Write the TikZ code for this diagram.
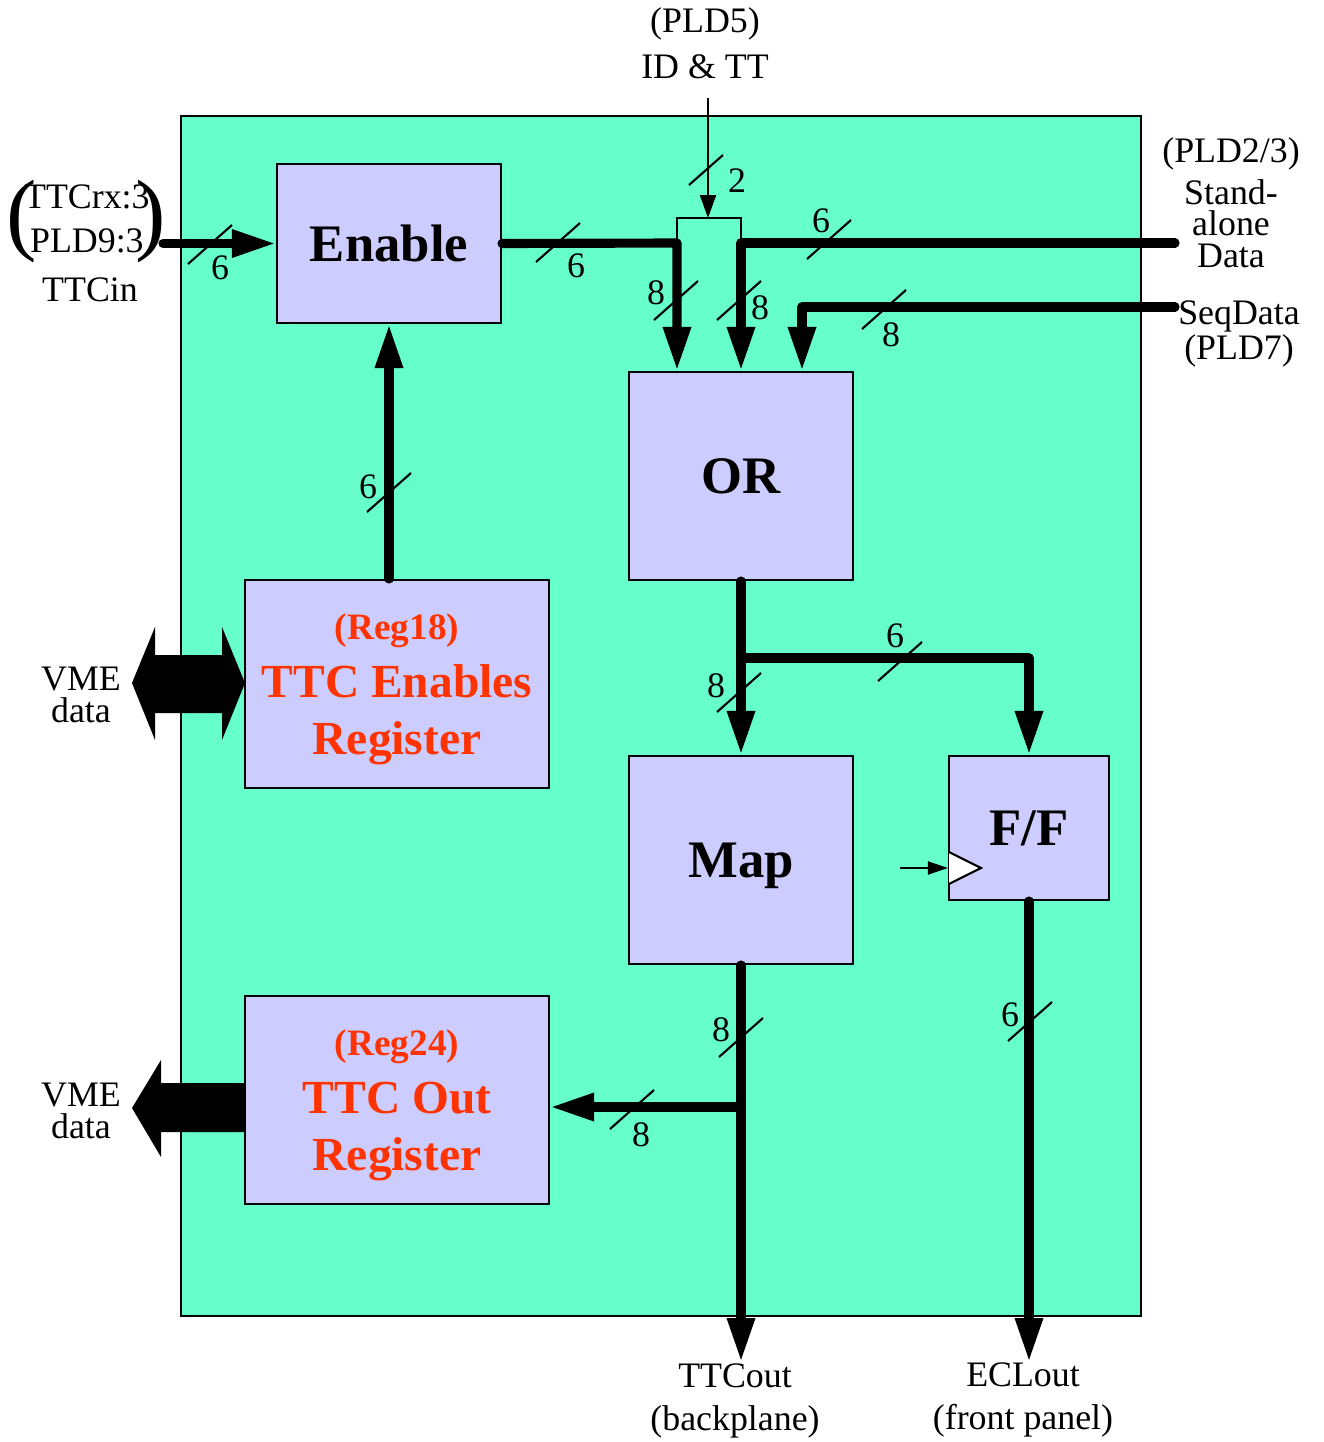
\documentclass[tikz,border=0pt]{standalone}
\usepackage{fontspec}
\setmainfont{Liberation Serif}
\usetikzlibrary{arrows.meta}

\definecolor{boardgreen}{RGB}{102,255,204}
\definecolor{blockblue}{RGB}{204,204,255}
\definecolor{regred}{RGB}{255,51,0}

\tikzset{
  txt/.style={font=\fontsize{10.2}{13}\selectfont, align=center, inner sep=0pt},
  wlabel/.style={font=\fontsize{10.2}{12}\selectfont, inner sep=0pt},
  blk/.style={draw, line width=0.6pt, fill=blockblue, inner sep=0pt, text depth=0pt,
    font=\bfseries\fontsize{15}{18}\selectfont},
  regblk/.style={draw, line width=0.6pt, fill=blockblue, inner sep=0pt, align=center,
    minimum width=30.4mm, minimum height=20.8mm, text=regred, text height=15.2mm,
    font=\bfseries\fontsize{13.5}{16.4}\selectfont},
  bus/.style={line width=2.6pt, line cap=round, line join=round},
  busarrow/.style={bus, -{Triangle[length=4.4mm,width=2.6mm]}},
  wire/.style={line width=0.6pt},
  slash/.pic={\draw[line width=0.6pt] (-22,20) -- (22,-19);},
  smallslash/.pic={\draw[line width=0.6pt] (-17,15) -- (17,-15);}
}

\begin{document}
\begin{tikzpicture}[x=0.1mm, y=-0.1mm]
  \useasboundingbox (0,0) rectangle (1324,1442);

  % board
  \node[draw, line width=0.6pt, fill=boardgreen, minimum width=96mm, minimum height=120mm,
    inner sep=0pt] (board) at (661,716) {};

  % blocks
  \node[blk, minimum width=22.4mm, minimum height=15.9mm] (enable) at (389,243.5) {Enable};
  \node[blk, minimum width=22.4mm, minimum height=20.8mm] (orgate) at (741,476) {OR};
  \node[blk, minimum width=22.4mm, minimum height=20.8mm] (map) at (741,860) {Map};
  \node[blk, minimum width=16mm, minimum height=14.4mm] (ff) at (1029,828) {F/F};
  \node[regblk] (enreg) at (397,684)
    {{\fontsize{10.6}{16.4}\selectfont (Reg18)}\\TTC Enables\\Register};
  \node[regblk] (outreg) at (397,1100)
    {{\fontsize{10.6}{16.4}\selectfont (Reg24)}\\TTC Out\\Register};

  % junctions and free ends
  \coordinate (ttcin) at (163,243.5);
  \coordinate (jl) at (677,243);
  \coordinate (jr) at (741,243);
  \coordinate (bl) at (677,218);
  \coordinate (br) at (741,218);
  \coordinate (pld5) at (708,98);
  \coordinate (sa) at (1175,243);
  \coordinate (sq) at (1175,307);
  \coordinate (sqc) at (802,307);
  \coordinate (jm) at (741,658);
  \coordinate (jo) at (741,1107);
  \coordinate (ttcout) at (741,1362);
  \coordinate (eclout) at (1029,1362);
  \coordinate (clk) at (900,868);

  % input side
  \draw[busarrow] (ttcin) -- (enable.west);
  \draw[busarrow] (enable.south |- enreg.north) -- (enable.south);

  % into the OR
  \draw[busarrow] (enable.east) -- (jl) -- (jl |- orgate.north);
  \draw[busarrow] (jr) -- (orgate.north);
  \draw[bus] (jr) -- (sa);
  \draw[wire] (jl) -- (bl) -- (br) -- (jr);
  \draw[wire, -{Triangle[length=2.3mm,width=1.6mm]}] (pld5) -- (pld5 |- bl);
  \draw[busarrow] (sq) -- (sqc) -- (sqc |- orgate.north);

  % OR to Map and F/F
  \draw[busarrow] (orgate.south) -- (map.north);
  \draw[busarrow] (jm) -- (jm -| ff.north) -- (ff.north);

  % outputs
  \draw[busarrow] (map.south) -- (ttcout);
  \draw[busarrow] (jo) -- (jo -| outreg.east);
  \draw[busarrow] (ff.south) -- (eclout);

  % clock input of F/F
  \draw[wire, fill=white] (949,852) -- (981,868) -- (949,884);
  \draw[wire, -{Triangle[length=2mm,width=1.3mm]}] (clk) -- (clk -| ff.west);

  % VME buses
  \fill (132,683) -- (155,627) -- (155,655) -- (222,655) -- (222,627) -- (245,683)
    -- (222,740) -- (222,713) -- (155,713) -- (155,740) -- cycle;
  \fill (132,1108) -- (161,1060) -- (161,1083) -- (245,1083) -- (245,1132)
    -- (161,1132) -- (161,1157) -- cycle;

  % bus widths
  \pic at (210,244) {slash};   \node[wlabel] (w1) at (220,268) {6};
  \pic at (558,242) {slash};   \node[wlabel] (w2) at (576,266) {6};
  \pic at (706,170) {smallslash}; \node[wlabel] (w3) at (737,181) {2};
  \pic at (676,300) {slash};   \node[wlabel] (w4) at (656,293) {8};
  \pic at (739,300) {slash};   \node[wlabel] (w5) at (760,308) {8};
  \pic at (829,239) {slash};   \node[wlabel] (w6) at (821,221) {6};
  \pic at (884,309) {slash};   \node[wlabel] (w7) at (891,335) {8};
  \pic at (389,492) {slash};   \node[wlabel] (w8) at (368,487) {6};
  \pic at (739,692) {slash};   \node[wlabel] (w9) at (716,686) {8};
  \pic at (900,661) {slash};   \node[wlabel] (w10) at (895,636) {6};
  \pic at (741,1037) {slash};  \node[wlabel] (w11) at (721,1030) {8};
  \pic at (632,1109) {slash};  \node[wlabel] (w12) at (641,1135) {8};
  \pic at (1030,1021) {slash}; \node[wlabel] (w13) at (1010,1015) {6};

  % outside labels
  \node[inner sep=0pt] (srcs) at (86,222)
    {\fontsize{26}{26}\selectfont(\hspace{-3.5pt}$\vcenter{\hbox{\fontsize{10.2}{12.5}\selectfont
      \begin{tabular}{@{}c@{}}TTCrx:3\\PLD9:3\end{tabular}}}$\hspace{-4pt})};
  \node[txt] (ttcinlbl) at (90,290) {TTCin};
  \node[txt] (idtt) at (705,43) {(PLD5)\\ID \& TT};
  \node[txt, font=\fontsize{10.2}{9}\selectfont] (salbl) at (1231,203)
    {(PLD2/3)\\[1.5pt]Stand-\\alone\\Data};
  \node[txt, font=\fontsize{10.2}{10.2}\selectfont] (sqlbl) at (1239,334) {SeqData\\(PLD7)};
  \node[txt, font=\fontsize{10.2}{9}\selectfont] (vme1) at (81,695) {VME\\data};
  \node[txt, font=\fontsize{10.2}{9}\selectfont] (vme2) at (81,1111) {VME\\data};
  \node[txt, font=\fontsize{10.2}{12.4}\selectfont] (ttcoutlbl) at (735,1401) {TTCout\\(backplane)};
  \node[txt, font=\fontsize{10.2}{12.4}\selectfont] (ecloutlbl) at (1023,1400) {ECLout\\(front panel)};
\end{tikzpicture}
\end{document}
